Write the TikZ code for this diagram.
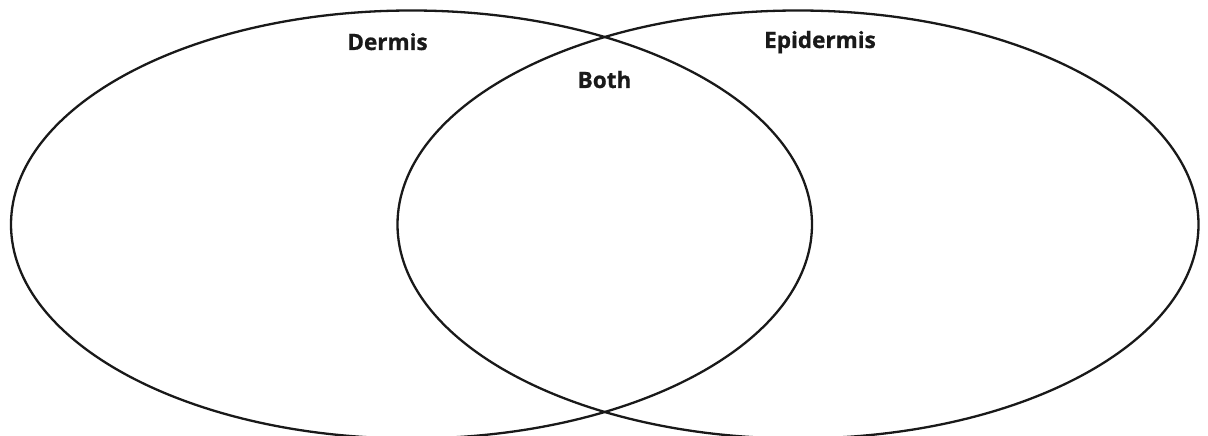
\documentclass[tikz,border=0pt]{standalone}
\usepackage{fontspec}
\setmainfont{Open Sans}[BoldFont={Open Sans Bold}, BoldFeatures={FakeBold=0.8}]
\usetikzlibrary{shapes.geometric}

\begin{document}
\begin{tikzpicture}[
  x=1pt, y=1pt,
  font=\fontsize{22.5}{27}\selectfont\bfseries,
  ring/.style={draw=black!90, line width=2.3pt, ellipse, inner sep=0pt,
               outer sep=0pt, minimum width=801pt, minimum height=428pt},
  lbl/.style={anchor=base, inner sep=0pt, text=black!90}]
\useasboundingbox (0,0) rectangle (1208,436);
\node[ring] (dermisSet) at (411.5,211.5) {};
\node[ring] (epidermisSet) at (798,211.5) {};
\node[lbl] (dermisLbl) at (387.5,386) {Dermis};
\node[lbl] (bothLbl) at (604.5,348) {Both};
\node[lbl] (epidermisLbl) at (820,388) {Epidermis};
\end{tikzpicture}
\end{document}
